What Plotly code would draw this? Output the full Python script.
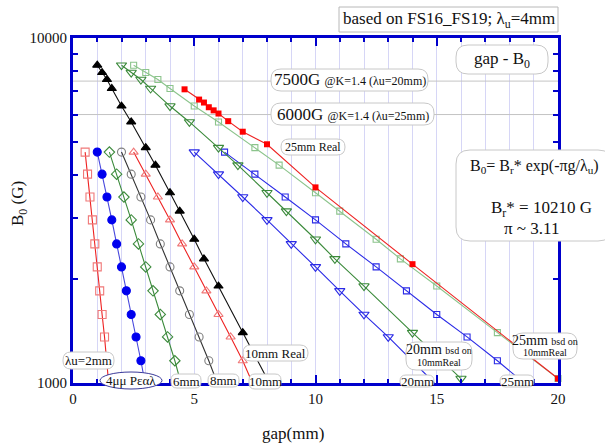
import plotly.graph_objects as go

# ---------------- data ----------------
b_calc = [4670, 4030, 3460, 2970, 2530, 2170, 1850, 1580, 1360, 1160]

gap_2mm = [0.5, 0.6, 0.7, 0.8, 0.9, 1.0, 1.1, 1.2, 1.3]
gap_4real = [1.0, 1.2, 1.4, 1.6, 1.8, 2.0, 2.2, 2.4, 2.6, 2.8]
b_4real = [4670, 4030, 3460, 2970, 2530, 2170, 1850, 1580, 1360, 1160]
gap_6mm = [1.5, 1.8, 2.1, 2.4, 2.7, 3.0, 3.3, 3.6, 3.9, 4.2]
gap_8mm = [2.0, 2.4, 2.8, 3.2, 3.6, 4.0, 4.4, 4.8, 5.2, 5.6]
gap_10mm = [2.5, 3.0, 3.5, 4.0, 4.5, 5.0, 5.5, 6.0, 6.5, 7.0]
gap_20mm = [5, 6, 7, 8, 9, 10, 11, 12, 13]
gap_25mm = [6.25, 7.5, 8.75, 10.0, 11.25, 12.5, 13.75, 15.0, 16.25, 17.5]

# gap where each calculated line reaches 1000 G
end_gap = {"2mm": 1.47, "4mm": 2.97, "6mm": 4.45, "8mm": 5.95,
           "10mm": 7.4, "20mm": 14.9, "25mm": 18.6}

gap_10real = [1.0, 1.2, 1.4, 1.6, 2.0, 2.4, 3.0, 3.4, 4.0, 4.4, 5.0, 5.4, 6.0, 7.0, 8.0]
b_10real = [8340, 7940, 7580, 7140, 6350, 5710, 4810, 4280, 3560, 3150, 2610, 2290, 1910, 1400, 1030]
gap_20bsd = [2.0, 2.4, 2.8, 3.2, 4.0, 4.8, 6.0, 6.8, 8.0, 8.8, 10.0, 10.8, 12.0, 14.0, 16.0]
gap_25bsd = [2.5, 3.0, 3.5, 4.0, 5.0, 6.0, 7.5, 8.5, 10.0, 11.0, 12.5, 13.5, 15.0, 17.5, 20.0]

gap_25real = [4.6, 5.2, 5.4, 5.6, 5.8, 6.0, 6.4, 7.0, 8.0, 10.0, 14.0, 20.0]
b_25real = [7100, 6630, 6500, 6300, 6170, 6040, 5740, 5350, 4920, 3690, 2210, 1030]

ref_levels = [7500, 6000]
x_range = [0, 20]

x_ticks = [0, 5, 10, 15, 20]
y_ticks = [1000, 10000]
y_ticktext = ["1000", "10000"]
y_minor = [2000, 3000, 4000, 5000, 6000, 7000, 8000, 9000]

# ---------------- figure ----------------
fig = go.Figure()

RED = "#ee2222"
LRED = "#f07878"
BLUE = "#2a2ae6"
GREEN = "#3b8a3b"
LGREEN = "#8cc48c"
GRAY = "#808080"
FONT = "Liberation Serif, Times New Roman, Times, serif"

for lvl in ref_levels:
    fig.add_trace(go.Scatter(x=x_range, y=[lvl, lvl], mode="lines",
                             line=dict(color="#c4c4c4", width=1), hoverinfo="skip"))


def series(gx, by, end, line_color, sym, mcolor, msize, mline=1.1):
    if end is not None:
        fig.add_trace(go.Scatter(x=list(gx) + [end], y=list(by) + [1000], mode="lines",
                                 line=dict(color=line_color, width=1.1)))
    else:
        fig.add_trace(go.Scatter(x=gx, y=by, mode="lines",
                                 line=dict(color=line_color, width=1.1)))
    fig.add_trace(go.Scatter(x=gx, y=by, mode="markers", cliponaxis=False,
                             marker=dict(symbol=sym, color=mcolor, size=msize,
                                         line=dict(color=mcolor, width=mline))))


series(gap_2mm, b_calc[:9], end_gap["2mm"], RED, "square-open", LRED, 8)
series(gap_4real, b_4real, end_gap["4mm"], "#4848dd", "circle", "#0000ee", 8)
series(gap_6mm, b_calc, end_gap["6mm"], GREEN, "diamond-open", GREEN, 8)
series(gap_8mm, b_calc, end_gap["8mm"], "#333333", "circle-open", GRAY, 8)
series(gap_10mm, b_calc, end_gap["10mm"], RED, "triangle-up-open", LRED, 8)
series(gap_10real, b_10real, None, "#111111", "triangle-up", "#000000", 8)
series(gap_20mm, b_calc[:9], end_gap["20mm"], BLUE, "triangle-down-open", BLUE, 9)
series(gap_25mm, b_calc, end_gap["25mm"], BLUE, "square-open", BLUE, 6)
series(gap_20bsd, b_10real, None, GREEN, "triangle-down-open", GREEN, 9)
series(gap_25bsd, b_10real, None, LGREEN, "square-open", LGREEN, 6)
series(gap_25real, b_25real, None, RED, "square", "#ff0000", 6, 0)

# ---------------- layout helpers (pixel -> paper) ----------------
L, R, T, B = 73, 558, 38, 383
W, H = R - L, B - T


def px(x):
    return (x - L) / W


def py(y):
    return (B - y) / H


shapes = []


def rbox(x0, y0, x1, y1, r=8, color="#c8c8c8", square=False):
    if square:
        shapes.append(dict(type="rect", xref="paper", yref="paper",
                           x0=px(x0), x1=px(x1), y0=py(y1), y1=py(y0),
                           line=dict(color=color, width=1), fillcolor="white", layer="above"))
        return
    rx, ry = r / W, r / H
    X0, X1, Y0, Y1 = px(x0), px(x1), py(y1), py(y0)
    path = (f"M {X0+rx},{Y0} L {X1-rx},{Y0} Q {X1},{Y0} {X1},{Y0+ry} "
            f"L {X1},{Y1-ry} Q {X1},{Y1} {X1-rx},{Y1} L {X0+rx},{Y1} "
            f"Q {X0},{Y1} {X0},{Y1-ry} L {X0},{Y0+ry} Q {X0},{Y0} {X0+rx},{Y0} Z")
    shapes.append(dict(type="path", xref="paper", yref="paper", path=path,
                       line=dict(color=color, width=1), fillcolor="white", layer="above"))


annotations = []


def label(x, y, text, size=13, color="#111111", anchor="center"):
    annotations.append(dict(xref="paper", yref="paper", x=px(x), y=py(y), text=text,
                            showarrow=False, xanchor=anchor, yanchor="middle",
                            font=dict(family=FONT, size=size, color=color)))


def small(t, s=12):
    return f"<span style='font-size:{s}px'>{t}</span>"


# top info box
rbox(339, 7, 558, 32, square=True, color="#b8b8b8")
label(448.5, 20, "based on FS16_FS19; λ<sub>u</sub>=4mm", 17)

rbox(456, 45, 548, 74, r=12)
label(502, 59.5, "gap - B<sub>0</sub>", 17)

rbox(271, 69, 428, 91, r=10)
label(349.5, 80, "7500G " + small("@K=1.4 (λu=20mm)", 12), 17)

rbox(271, 103, 434, 125, r=10)
label(352.5, 114, "6000G " + small("@K=1.4 (λu=25mm)", 12), 17)

rbox(281, 139, 345, 155, r=8)
label(313, 147, "25mm Real", 12)

rbox(456, 150, 612, 241, r=14)
label(534, 167, "B<sub>0</sub>= B<sub>r</sub>* exp(-πg/λ<sub>u</sub>)", 16)
label(541, 209, "B<sub>r</sub>* = 10210 G", 17)
label(531, 228, "π ~ 3.11", 17)

rbox(63, 352, 114, 369, r=8)
label(88.5, 360.5, "λu=2mm", 13)

shapes.append(dict(type="circle", xref="paper", yref="paper",
                   x0=px(100), x1=px(162), y0=py(389), y1=py(372),
                   line=dict(color="#3a3a9a", width=1), fillcolor="white", layer="above"))
label(131, 380.5, "4μμ Ρεαλ", 13)

rbox(171, 374, 201, 388, r=6)
label(186, 381, "6mm", 13)
rbox(208, 374, 239, 387, r=6)
label(223.5, 380.5, "8mm", 13)
rbox(249, 374, 281, 389, r=6)
label(265, 381.5, "10mm", 13)
rbox(243, 345, 308, 361, r=8)
label(275.5, 353, "10mm Real", 13)
rbox(400, 375, 434, 387, r=6)
label(417, 381, "20mm", 13)
rbox(500, 375, 534, 387, r=6)
label(517, 381, "25mm", 13)

rbox(406, 342, 472, 370, r=10)
label(439, 349.5, "20mm " + small("bsd on", 10), 14)
label(439, 362.5, small("10mmReal", 10), 14)
rbox(513, 333, 577, 359, r=10)
label(545, 340, "25mm " + small("bsd on", 10), 14)
label(545, 352.5, small("10mmReal", 10), 14)

# axis titles
label(293, 433, "gap(mm)", 17)
annotations.append(dict(xref="paper", yref="paper", x=px(19), y=py(204),
                        text="B<sub>0</sub> (G)", showarrow=False, textangle=-90,
                        xanchor="center", yanchor="middle",
                        font=dict(family=FONT, size=17, color="#111111")))

AX = "#0000cc"
fig.update_layout(
    width=605, height=444,
    margin=dict(l=L, r=605 - R, t=T, b=444 - B),
    paper_bgcolor="white", plot_bgcolor="white",
    showlegend=False,
    font=dict(family=FONT, size=14, color="#111111"),
    shapes=shapes, annotations=annotations,
    xaxis=dict(range=x_range, tickvals=x_ticks, ticks="inside", ticklen=8, tickwidth=2,
               tickcolor=AX, showline=True, linecolor=AX, linewidth=3, mirror="ticks",
               showgrid=True, gridcolor="#d6d6f6", gridwidth=1, zeroline=False,
               tickfont=dict(family=FONT, size=15, color="#111111"),
               minor=dict(dtick=1, ticks="inside", ticklen=4, tickwidth=2, tickcolor=AX,
                          showgrid=True, gridcolor="#d6d6f6", gridwidth=1)),
    yaxis=dict(type="log", range=[3, 4], tickvals=y_ticks, ticktext=y_ticktext,
               ticks="inside", ticklen=8,
               tickwidth=2, tickcolor=AX, showline=True, linecolor=AX, linewidth=3,
               mirror="ticks", showgrid=False, zeroline=False,
               tickfont=dict(family=FONT, size=15, color="#111111"),
               minor=dict(tickvals=y_minor, ticks="inside", ticklen=5, tickwidth=2,
                          tickcolor=AX, showgrid=False)),
)

fig.write_html("out.html")
